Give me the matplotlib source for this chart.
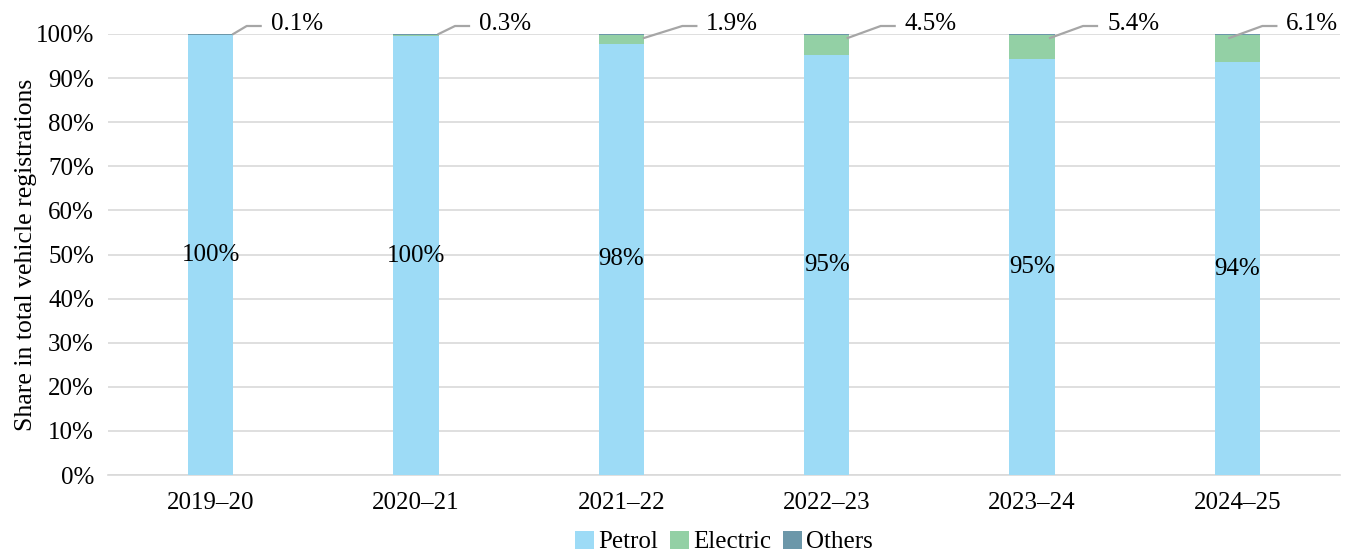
import numpy as np
from matplotlib import pyplot as plt

years = ['2019–20', '2020–21', '2021–22', '2022–23', '2023–24', '2024–25']
petrol = [99.7, 99.5, 97.8, 95.2, 94.4, 93.6]
electric = [0.1, 0.3, 1.9, 4.5, 5.4, 6.1]
others = [100 - p - e for p, e in zip(petrol, electric)]
petrol_labels = ['100%', '100%', '98%', '95%', '95%', '94%']

# where the electric labels sit, in pixels right of the bar centre
label_dx = [60, 63, 85, 78, 75, 49]

c_petrol = '#9ddbf6'
c_electric = '#93d0a5'
c_others = '#6c97a9'
c_leader = '#a6a6a6'

plt.rcParams['font.family'] = ['Liberation Serif', 'DejaVu Serif']
fs = 18

fig = plt.figure(figsize=(13.52, 5.53), dpi=100)
ax = fig.add_axes([108 / 1352, 78 / 553, 1232 / 1352, 441 / 553])

# pixel -> data unit factors
px_x = 1 / 205.3
px_y = 100 / 441

x = np.arange(len(years))
w = 0.22
ax.bar(x, petrol, w, color=c_petrol, label='Petrol', zorder=3)
ax.bar(x, electric, w, bottom=petrol, color=c_electric, label='Electric', zorder=3)
ax.bar(x, others, w, bottom=np.array(petrol) + np.array(electric),
       color=c_others, label='Others', zorder=3)

for i in range(len(years)):
    ax.text(x[i], petrol[i] / 2, petrol_labels[i], ha='center', va='center',
            fontsize=fs, zorder=4)
    tx = x[i] + label_dx[i] * px_x
    ty = 100 + 10 * px_y
    if electric[i] < 1:
        sx, sy = x[i] + w / 2, 100
    else:
        sx, sy = min(x[i] + w / 2, tx - 57 * px_x), 100 - 4 * px_y
    ax.plot([sx, tx - 24 * px_x, tx - 10 * px_x], [sy, 100 + 8 * px_y, 100 + 8 * px_y],
            color=c_leader, lw=1.6, clip_on=False, zorder=4)
    ax.text(tx, ty, f'{electric[i]:.1f}%', ha='left', va='center', fontsize=fs,
            clip_on=False)

ax.set_xlim(-0.5, len(years) - 0.5)
ax.set_ylim(0, 100)
ax.set_yticks(np.arange(0, 101, 10))
ax.set_yticklabels([f'{v}%' for v in range(0, 101, 10)])
ax.set_xticks(x)
ax.set_xticklabels(years)
ax.tick_params(axis='y', length=0, labelsize=fs, pad=10)
ax.tick_params(axis='x', length=0, labelsize=fs, pad=12)
ax.yaxis.grid(True, color='#d9d9d9', lw=1.2, zorder=0)
for s in ['top', 'right', 'left']:
    ax.spines[s].set_visible(False)
ax.spines['bottom'].set_color('#d9d9d9')
ax.spines['bottom'].set_linewidth(1.2)
ax.set_ylabel('Share in total vehicle registrations', fontsize=18.5, labelpad=-1)

ax.legend(loc='center', bbox_to_anchor=(0.5, (11 - 78) / 441), ncol=3, frameon=False,
          fontsize=fs, handlelength=0.75, handleheight=0.75, handletextpad=0.15,
          columnspacing=0.5, borderpad=0)

plt.savefig('out.png', dpi=100)
